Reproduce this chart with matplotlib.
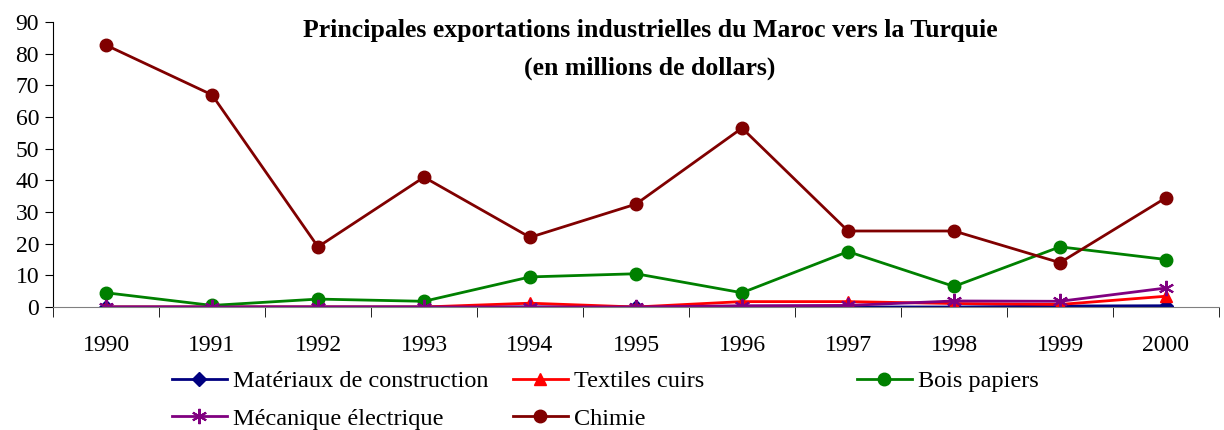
import matplotlib.pyplot as plt
import numpy as np

plt.rcParams['font.family'] = ['Liberation Serif', 'DejaVu Serif']

years = ['1990', '1991', '1992', '1993', '1994', '1995', '1996', '1997', '1998', '1999', '2000']
materiaux = [0, 0, 0, 0, 0, 0, 0, 0, 0, 0.3, 0.4]
textiles = [0, 0, 0, 0, 1.2, 0, 1.7, 1.7, 1.1, 0.8, 3.4]
bois = [4.5, 0.5, 2.5, 1.8, 9.5, 10.5, 4.5, 17.5, 6.5, 19, 15]
mecanique = [0, 0, 0, 0, 0, 0, 0.4, 0.5, 1.9, 1.8, 6]
chimie = [82.7, 67, 19, 41, 22, 32.5, 56.5, 24, 24, 14, 34.5]

fig = plt.figure(figsize=(12.24, 4.30), dpi=100)
ax = fig.add_axes([53 / 1224, 1 - 307 / 430, (1219 - 53) / 1224, (307 - 22) / 430])

x = np.arange(len(years))
l1, = ax.plot(x, materiaux, color='#000080', marker='D', ms=7, lw=2, label='Matériaux de construction')
l2, = ax.plot(x, textiles, color='#FF0000', marker='^', ms=9, lw=2, label='Textiles cuirs')
l3, = ax.plot(x, bois, color='#008000', marker='o', ms=9, lw=2, label='Bois papiers')
l4, = ax.plot(x, mecanique, color='#800080', marker=(6, 2, 0), ms=11, mew=1.5, lw=2, label='Mécanique électrique')
l5, = ax.plot(x, chimie, color='#800000', marker='o', ms=9, lw=2, label='Chimie')

ax.set_xlim(-0.5, len(years) - 0.5)
ax.set_ylim(0, 90)
ax.set_yticks(range(0, 91, 10))
ax.tick_params(axis='y', labelsize=17, direction='out', length=6, pad=4)
ax.set_xticks(x)
ax.set_xticklabels(years, fontsize=17)
ax.set_xticks(np.arange(-0.5, len(years), 1), minor=True)
ax.tick_params(axis='x', which='major', length=0, pad=20)
ax.tick_params(axis='x', which='minor', length=7, direction='out')
for s in ['top', 'right']:
    ax.spines[s].set_visible(False)
ax.spines['bottom'].set_color('#808080')

fig.text(650 / 1224, 1 - 19 / 430, 'Principales exportations industrielles du Maroc vers la Turquie\n(en millions de dollars)',
         ha='center', va='top', fontsize=18.5, fontweight='bold', linespacing=1.8)

kw = dict(frameon=False, fontsize=17.5, handlelength=2.25, handletextpad=0.25, labelspacing=0.64,
          borderaxespad=0, borderpad=0)
top = 1 - 370 / 430
fig.legend(handles=[l1, l4], loc='upper left', bbox_to_anchor=(172 / 1224, top), **kw)
fig.legend(handles=[l2, l5], loc='upper left', bbox_to_anchor=(513 / 1224, top), **kw)
fig.legend(handles=[l3], loc='upper left', bbox_to_anchor=(857 / 1224, top), **kw)

plt.savefig('out.png', dpi=100)
